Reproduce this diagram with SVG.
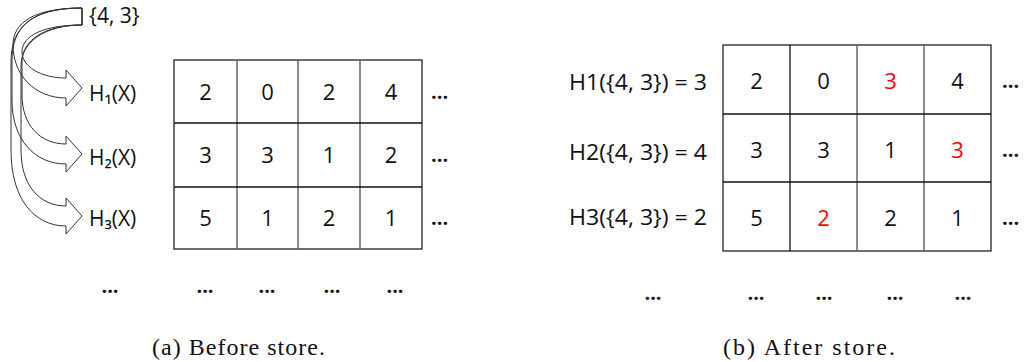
<svg xmlns="http://www.w3.org/2000/svg" width="1025" height="362" viewBox="0 0 1025 362">
<style>
.t{font-family:"Open Sans","Liberation Sans",sans-serif;font-size:21px;fill:#111}
.n{font-size:22px}
.c{text-anchor:middle}
.r{fill:#ff0000}
.d{font-family:"Open Sans","Liberation Sans",sans-serif;font-size:20px;font-weight:bold;fill:#111}
.cap{font-family:"Liberation Serif","Times New Roman",serif;font-size:24px;fill:#111}
.grid{fill:none;stroke:#222;stroke-width:1.3}
.gl{stroke:#666;stroke-width:1.5}
.bl{stroke:#111;stroke-width:1.3}
.arr{fill:none;stroke:#333;stroke-width:1}
</style>

<g id="connectors">
  <path class="arr" d="M82,8 C35,8 13,22 13,45 C13,75 35,98 66,98 L66,106 L82,88 L66,70 L66,78 C40,78 22,66 22,52 C22,35 45,25 82,25 Z"/>
  <path class="arr" d="M82,8 C30,8 12,28 12,60 L12,100 C12,140 35,164 66,164 L66,172 L82,154 L66,136 L66,144 C40,144 22,125 22,95 L22,62 C22,40 45,25 82,25 Z"/>
  <path class="arr" d="M82,8 C28,8 11,30 11,62 L11,150 C11,200 35,226 66,226 L66,234 L82,216 L66,198 L66,206 C40,206 21,186 21,150 L21,66 C21,42 45,25 82,25 Z"/>
</g>

<g id="source">
  <text class="t" x="89" y="23">{4, 3}</text>
</g>

<g id="labels-left">
  <text class="t" x="89" y="101">H₁(X)</text>
  <text class="t" x="89" y="165">H₂(X)</text>
  <text class="t" x="89" y="226">H₃(X)</text>
</g>

<g id="table-before">
  <rect class="grid" x="174" y="60" width="248" height="189"/>
  <line class="gl" x1="237" y1="60" x2="237" y2="249"/>
  <line class="gl" x1="298" y1="60" x2="298" y2="249"/>
  <line class="gl" x1="360" y1="60" x2="360" y2="249"/>
  <line class="bl" x1="174" y1="123" x2="422" y2="123" stroke-width="2"/>
  <line class="bl" x1="174" y1="187" x2="422" y2="187"/>
  <text class="t n c" x="205.5" y="100">2</text>
  <text class="t n c" x="267.5" y="100">0</text>
  <text class="t n c" x="329" y="100">2</text>
  <text class="t n c" x="391" y="100">4</text>
  <text class="t n c" x="205.5" y="163">3</text>
  <text class="t n c" x="267.5" y="163">3</text>
  <text class="t n c" x="329" y="163">1</text>
  <text class="t n c" x="391" y="163">2</text>
  <text class="t n c" x="205.5" y="226">5</text>
  <text class="t n c" x="267.5" y="226">1</text>
  <text class="t n c" x="329" y="226">2</text>
  <text class="t n c" x="391" y="226">1</text>
  <text class="d" x="431" y="99">...</text>
  <text class="d" x="431" y="162">...</text>
  <text class="d" x="431" y="225">...</text>
  <text class="d c" x="110" y="293">...</text>
  <text class="d c" x="205" y="293">...</text>
  <text class="d c" x="267" y="293">...</text>
  <text class="d c" x="332" y="293">...</text>
  <text class="d c" x="395" y="293">...</text>
</g>

<g id="labels-right">
  <text class="t" x="569" y="90" textLength="138" lengthAdjust="spacingAndGlyphs">H1({4, 3}) = 3</text>
  <text class="t" x="569" y="160" textLength="138" lengthAdjust="spacingAndGlyphs">H2({4, 3}) = 4</text>
  <text class="t" x="569" y="225" textLength="138" lengthAdjust="spacingAndGlyphs">H3({4, 3}) = 2</text>
</g>

<g id="table-after">
  <rect class="grid" x="723" y="45" width="268" height="206"/>
  <line class="bl" x1="790" y1="45" x2="790" y2="251"/>
  <line class="gl" x1="857" y1="45" x2="857" y2="251"/>
  <line class="gl" x1="924" y1="45" x2="924" y2="251"/>
  <line class="bl" x1="723" y1="114" x2="991" y2="114" stroke-width="2"/>
  <line class="bl" x1="723" y1="182" x2="991" y2="182"/>
  <text class="t n c" x="756.5" y="89">2</text>
  <text class="t n c" x="823.5" y="89">0</text>
  <text class="t n c r" x="890.5" y="89">3</text>
  <text class="t n c" x="957.5" y="89">4</text>
  <text class="t n c" x="756.5" y="158">3</text>
  <text class="t n c" x="823.5" y="158">3</text>
  <text class="t n c" x="890.5" y="158">1</text>
  <text class="t n c r" x="957.5" y="158">3</text>
  <text class="t n c" x="756.5" y="226">5</text>
  <text class="t n c r" x="823.5" y="226">2</text>
  <text class="t n c" x="890.5" y="226">2</text>
  <text class="t n c" x="957.5" y="226">1</text>
  <text class="d" x="1002" y="88">...</text>
  <text class="d" x="1002" y="157">...</text>
  <text class="d" x="1002" y="225">...</text>
  <text class="d c" x="653" y="300">...</text>
  <text class="d c" x="756" y="300">...</text>
  <text class="d c" x="824" y="300">...</text>
  <text class="d c" x="895" y="300">...</text>
  <text class="d c" x="963" y="300">...</text>
</g>

<g id="captions">
  <text class="cap" x="152" y="355" textLength="173" lengthAdjust="spacing">(a)  Before store.</text>
  <text class="cap" x="723" y="355" textLength="172" lengthAdjust="spacing">(b)  After store.</text>
</g>
</svg>
